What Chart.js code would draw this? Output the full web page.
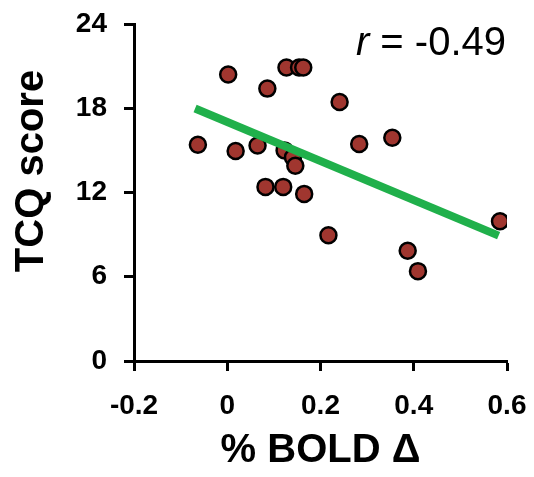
<!DOCTYPE html>
<html>
<head>
<meta charset="utf-8">
<script src="https://cdn.jsdelivr.net/npm/chart.js@4"></script>
<style>
  html, body { margin: 0; padding: 0; background: #fff; }
  #wrap { width: 534px; height: 477px; }
</style>
</head>
<body>
<div id="wrap"><canvas id="tcqChart" width="534" height="477"></canvas></div>
<script>
// Data for chart
const boldChange = [-0.063, 0.002, 0.018, 0.086, 0.065, 0.082, 0.120, 0.127, 0.123, 0.141, 0.146,
                    0.154, 0.163, 0.165, 0.217, 0.241, 0.283, 0.354, 0.387, 0.409, 0.585];
const tcqScore   = [15.4, 20.4, 14.95, 19.4, 15.35, 12.4, 12.4, 20.9, 15.0, 14.5, 13.9,
                    20.9, 20.9, 11.9, 8.95, 18.45, 15.45, 15.9, 7.85, 6.4, 9.95];
const fitX = [-0.069, 0.582];
const fitY = [17.98, 8.93];
const xTicks = [-0.2, 0, 0.2, 0.4, 0.6];
const yTicks = [0, 6, 12, 18, 24];
const rText = '-0.49';

const FONT = "'Liberation Sans', Arial, sans-serif";

// r = -0.49 label and rotated y title
const textPlugin = {
    id: 'textPlugin',
    afterDraw(chart) {
        const ctx = chart.ctx;
        ctx.save();
        ctx.fillStyle = '#000';
        ctx.textBaseline = 'alphabetic';
        ctx.font = 'italic 40px ' + FONT;
        const rw = ctx.measureText('r').width;
        ctx.font = '40px ' + FONT;
        const rest = ' = ' + rText;
        const restW = ctx.measureText(rest).width;
        const right = 506;
        const startX = right - restW - rw;
        ctx.font = 'italic 40px ' + FONT;
        ctx.fillText('r', startX, 55);
        ctx.font = '40px ' + FONT;
        ctx.fillText(rest, startX + rw, 55);

        ctx.translate(32, 171);
        ctx.rotate(-Math.PI / 2);
        ctx.textAlign = 'center';
        ctx.textBaseline = 'middle';
        ctx.font = 'bold 40px ' + FONT;
        ctx.fillText('TCQ score', 0, 0);
        ctx.restore();
    }
};

const ctx = document.getElementById('tcqChart').getContext('2d');
new Chart(ctx, {
    type: 'scatter',
    data: {
        datasets: [{
            type: 'line',
            data: fitX.map((x, i) => ({ x: x, y: fitY[i] })),
            borderColor: '#20b04b',
            borderWidth: 8,
            pointRadius: 0,
            fill: false,
            order: 0
        }, {
            data: boldChange.map((x, i) => ({ x: x, y: tcqScore[i] })),
            backgroundColor: '#a0362f',
            borderColor: '#000',
            borderWidth: 2.5,
            pointRadius: 8,
            order: 1
        }]
    },
    plugins: [textPlugin],
    options: {
        responsive: false,
        animation: false,
        layout: { padding: { left: 0, right: 27, top: 24, bottom: 0 } },
        plugins: {
            legend: { display: false },
            tooltip: { enabled: false }
        },
        scales: {
            x: {
                type: 'linear',
                min: -0.2,
                max: 0.6,
                afterBuildTicks: (axis) => { axis.ticks = xTicks.map(v => ({ value: v })); },
                afterFit: (axis) => {
                    axis.height = 116;
                    axis.paddingLeft = 0;
                    axis.paddingRight = 0;
                },
                border: { color: '#000', width: 3 },
                grid: { drawOnChartArea: false, tickLength: 10, tickWidth: 3, tickColor: '#000' },
                ticks: {
                    color: '#000',
                    padding: 18,
                    font: { family: FONT, size: 28, weight: 'bold' },
                    callback: (v) => v === 0 ? '0' : v.toFixed(1)
                },
                title: {
                    display: true,
                    text: '% BOLD Δ',
                    color: '#000',
                    font: { family: FONT, size: 40, weight: 'bold' },
                    padding: { top: 0, bottom: 2 }
                }
            },
            y: {
                min: 0,
                max: 24,
                afterBuildTicks: (axis) => { axis.ticks = yTicks.map(v => ({ value: v })); },
                afterFit: (axis) => {
                    axis.width = 134;
                    axis.paddingTop = 0;
                    axis.paddingBottom = 0;
                },
                border: { color: '#000', width: 3 },
                grid: { drawOnChartArea: false, tickLength: 10, tickWidth: 3, tickColor: '#000' },
                ticks: {
                    color: '#000',
                    padding: 17,
                    font: { family: FONT, size: 28, weight: 'bold' }
                }
            }
        }
    }
});
</script>
</body>
</html>
